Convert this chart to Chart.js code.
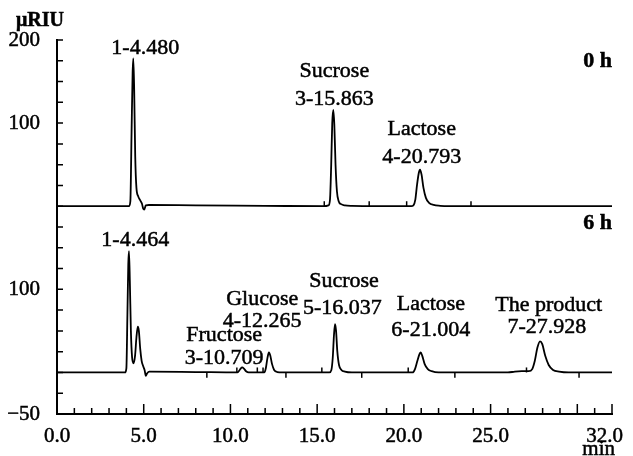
<!DOCTYPE html>
<html>
<head>
<meta charset="utf-8">
<script src="https://cdn.jsdelivr.net/npm/chart.js@4.4.1/dist/chart.umd.min.js"></script>
<style>
  body { margin: 0; background: #fff; }
  #wrap { width: 633px; height: 456px; }
</style>
</head>
<body>
<div id="wrap"><canvas id="chart1"></canvas></div>
<script>
const ctx1 = document.getElementById('chart1').getContext('2d');

// 0 h trace (min, µRIU)
const upperTime = [0, 4.15, 4.23, 4.3, 4.36, 4.4, 4.45, 4.51, 4.58, 4.68, 4.8, 4.9, 4.97, 5.03, 5.12, 5.3, 8, 12,
  15.4, 15.65, 15.74, 15.81, 15.87, 15.93, 15.99, 16.06, 16.14, 16.24, 16.38, 16.6, 17,
  20.42, 20.55, 20.66, 20.76, 20.86, 20.93, 21.02, 21.13, 21.27, 21.45, 21.72, 22.1, 22.5, 27, 32];
const upperSignal = [0, 0, 6, 90, 160, 178, 140, 60, 22, 12, 7, 3, -3, -4, 1, 1.5, 1, 0.5,
  0, 1, 8, 50, 100, 116, 98, 50, 18, 6, 2.5, 1, 0.5,
  0, 1, 8, 26, 40, 44, 38, 22, 10, 4, 1.5, 0.5, 0, 0, 0];

// 6 h trace (min, µRIU), drawn 200 units lower
const lowerTime = [0, 3.92, 4.0, 4.06, 4.11, 4.15, 4.2, 4.26, 4.33, 4.41, 4.5, 4.58, 4.66, 4.72, 4.8, 4.88, 4.96, 5.05, 5.12, 5.2, 5.32, 8,
  10.4, 10.5, 10.6, 10.68, 10.78, 10.9, 11.05, 11.95, 12.04, 12.13, 12.22, 12.3, 12.4, 12.52, 12.7, 13,
  15.7, 15.82, 15.9, 15.97, 16.03, 16.09, 16.16, 16.26, 16.4, 16.6, 17,
  20.5, 20.64, 20.78, 20.9, 20.97, 21.06, 21.2, 21.38, 21.6, 22,
  26, 26.4, 26.8, 27.2, 27.4, 27.55, 27.7, 27.85, 27.98, 28.15, 28.35, 28.6, 28.95, 29.5, 32];
const lowerSignal = [0, 0, 5, 70, 130, 146, 110, 50, 18, 11, 20, 42, 55, 50, 28, 14, 8, 3, -4, -1, 1, 0.5,
  0, 2, 5, 6, 4.5, 1.5, 0, 0, 5, 17, 24, 20, 10, 3, 0.5, 0,
  0, 3, 18, 45, 58, 50, 26, 9, 3, 1, 0,
  0, 4, 14, 22, 24, 20, 10, 4, 1.5, 0,
  0, 1, 1.5, 1.5, 4, 14, 30, 37.5, 34, 20, 9, 3, 1, 0, 0];
const LOWER_OFFSET = -200;

// integration marks
const upperMarks = [15.41, 18.0, 20.16, 23.87];
const lowerMarksAbove = [10.37, 11.55, 11.88, 15.27, 20.25, 27.07];
const lowerMarksBelow = [8.64, 13.2, 17.57, 22.94, 30.1];

// axis labels
const xLabelValues = [0, 5, 10, 15, 20, 25, 32];
const xLabelText = ['0.0', '5.0', '10.0', '15.0', '20.0', '25.0', '32.0\u2002\u2009'];
const yLabelValues = [200, 100, -100, -250];
const yLabelText = ['200', '100', '100', '\u221250'];

// peak annotations [text, min, µRIU on the shared axis]
const peakLabels = [
  ['1-4.480', 5.09, 183.2],
  ['Sucrose', 15.99, 155.1],
  ['3-15.863', 15.99, 121.8],
  ['Lactose', 21.03, 85.7],
  ['4-20.793', 21.03, 52.4],
  ['1-4.464', 4.51, -47.9],
  ['Glucose', 11.83, -118.9],
  ['4-12.265', 11.83, -145.0],
  ['Fructose', 9.64, -161.8],
  ['3-10.709', 9.64, -189.8],
  ['Sucrose', 16.55, -96.8],
  ['5-16.037', 16.45, -129.7],
  ['Lactose', 21.56, -124.9],
  ['6-21.004', 21.55, -155.8],
  ['The product', 28.35, -125.5],
  ['7-27.928', 28.25, -152.9],
];
const traceLabels = [['0 h', 32, 167.8], ['6 h', 32, -27.4]];

const SERIF = "'Liberation Serif', 'Times New Roman', serif";
Chart.defaults.font.family = SERIF;
Chart.defaults.color = '#000';

const toPoints = (ts, vs, off) => ts.map((t, i) => ({x: t, y: vs[i] + off}));
const toMarks = (ts, y) => ts.map((t) => ({x: t, y: y}));

const markStyle = {
  showLine: false,
  pointStyle: 'line',
  pointRotation: 90,
  pointRadius: 2.5,
  pointBorderWidth: 1.5,
  pointBorderColor: '#000',
  pointHoverRadius: 0,
};

// inward tick marks and free text
const extras = {
  id: 'extras',
  afterDraw(chart) {
    const {ctx, chartArea, scales: {x, y}} = chart;
    ctx.save();
    ctx.strokeStyle = '#000';
    ctx.lineWidth = 1.5;
    ctx.beginPath();
    x.ticks.forEach((t) => {
      const px = x.getPixelForValue(t.value);
      const len = (t.value % 5 === 0 || t.value === 32) ? 10 : 6;
      ctx.moveTo(px, chartArea.bottom);
      ctx.lineTo(px, chartArea.bottom - len);
    });
    y.ticks.forEach((t) => {
      const py = y.getPixelForValue(t.value);
      ctx.moveTo(chartArea.left, py);
      ctx.lineTo(chartArea.left + 6, py);
    });
    ctx.stroke();

    ctx.fillStyle = '#000';
    ctx.lineWidth = 0.5;
    ctx.textBaseline = 'alphabetic';
    const put = (txt, px, py) => { ctx.fillText(txt, px, py); ctx.strokeText(txt, px, py); };
    ctx.font = '22px ' + SERIF;
    ctx.textAlign = 'center';
    peakLabels.forEach(([txt, t, v]) => put(txt, x.getPixelForValue(t), y.getPixelForValue(v)));
    ctx.font = 'bold 22px ' + SERIF;
    ctx.textAlign = 'right';
    traceLabels.forEach(([txt, t, v]) => put(txt, x.getPixelForValue(t), y.getPixelForValue(v)));
    ctx.font = 'bold 20px ' + SERIF;
    ctx.textAlign = 'left';
    put('\u03bcRIU', 16, y.top - 14);
    ctx.font = '21px ' + SERIF;
    ctx.textAlign = 'right';
    put('min', x.right + 3, x.bottom - 1);
    ctx.restore();
  }
};

new Chart(ctx1, {
  type: 'line',
  data: {
    datasets: [
      {
        label: '0 h',
        data: toPoints(upperTime, upperSignal, 0),
        borderColor: '#000',
        borderWidth: 1.8,
        pointRadius: 0,
        cubicInterpolationMode: 'monotone',
      },
      {
        label: '6 h',
        data: toPoints(lowerTime, lowerSignal, LOWER_OFFSET),
        borderColor: '#000',
        borderWidth: 1.8,
        pointRadius: 0,
        cubicInterpolationMode: 'monotone',
      },
      Object.assign({data: toMarks(upperMarks, 3)}, markStyle),
      Object.assign({data: toMarks(lowerMarksAbove, LOWER_OFFSET + 3)}, markStyle),
      Object.assign({data: toMarks(lowerMarksBelow, LOWER_OFFSET - 3.5)}, markStyle),
    ],
  },
  options: {
    responsive: true,
    maintainAspectRatio: false,
    animation: false,
    layout: { padding: { top: 40, right: 21, left: 0, bottom: 0 } },
    plugins: { legend: { display: false }, tooltip: { enabled: false } },
    scales: {
      x: {
        type: 'linear',
        min: 0,
        max: 32,
        grid: { display: false },
        border: { display: true, color: '#000', width: 2 },
        ticks: {
          stepSize: 1,
          autoSkip: false,
          maxRotation: 0,
          padding: 2,
          font: { size: 21 },
          textStrokeColor: '#000',
          textStrokeWidth: 0.5,
          callback: (v) => {
            const i = xLabelValues.indexOf(v);
            return i >= 0 ? xLabelText[i] : '';
          },
        },
        afterFit: (s) => { s.height = 42; s.paddingLeft = 0; s.paddingRight = 0; },
      },
      y: {
        min: -250,
        max: 200,
        grid: { display: false },
        border: { display: true, color: '#000', width: 2 },
        ticks: {
          stepSize: 25,
          autoSkip: false,
          padding: 9,
          font: { size: 21 },
          textStrokeColor: '#000',
          textStrokeWidth: 0.5,
          callback: (v) => {
            const i = yLabelValues.indexOf(v);
            return i >= 0 ? yLabelText[i] : '';
          },
        },
        afterFit: (s) => { s.width = 57; s.paddingTop = 0; s.paddingBottom = 0; },
      },
    },
  },
  plugins: [extras],
});
</script>
</body>
</html>
